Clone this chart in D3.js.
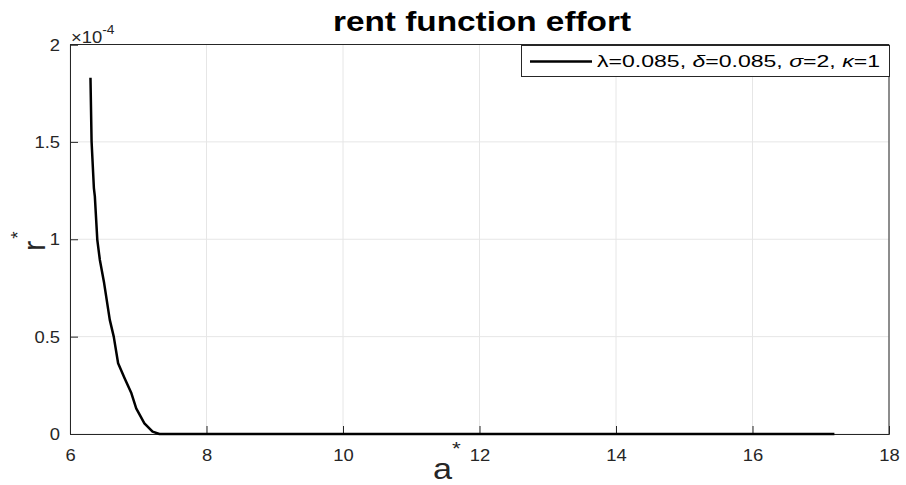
<!DOCTYPE html>
<html>
<head>
<meta charset="utf-8">
<script src="https://cdn.jsdelivr.net/npm/d3@7"></script>
<style>
  html, body { margin: 0; padding: 0; background: #fff; }
  svg { display: block; }
  text { font-family: "Liberation Sans", Arial, Helvetica, sans-serif; }
</style>
</head>
<body>
<svg id="chart" width="906" height="485"></svg>
<script>
// ---- data ----
const aStar = [6.30, 6.316, 6.35, 6.364, 6.40, 6.437, 6.50, 6.583, 6.641, 6.705, 6.80, 6.90, 6.97, 7.09, 7.21, 7.31, 8, 10, 12, 14, 16, 17.2];
const rStar = [1.829e-4, 1.503e-4, 1.263e-4, 1.22e-4, 0.997e-4, 0.895e-4, 0.775e-4, 0.586e-4, 0.50e-4, 0.363e-4, 0.286e-4, 0.209e-4, 0.132e-4, 0.055e-4, 0.012e-4, 0, 0, 0, 0, 0, 0, 0];
const xTicks = [6, 8, 10, 12, 14, 16, 18];
const yTicks = [0, 0.5e-4, 1e-4, 1.5e-4, 2e-4];
const yTickLabels = ["0", "0.5", "1", "1.5", "2"];
const titleText = "rent function effort";

const svg = d3.select("#chart");
const m = { left: 70, right: 889, top: 44.5, bottom: 434 };
const x = d3.scaleLinear().domain([6, 18]).range([m.left, m.right]);
const y = d3.scaleLinear().domain([0, 2e-4]).range([m.bottom, m.top]);
const axisColor = "#262626";
const SX = 1.15; // horizontal stretch of the reference's text

// grid
svg.append("g").selectAll("line").data(xTicks).join("line")
  .attr("x1", d => x(d)).attr("x2", d => x(d))
  .attr("y1", m.top).attr("y2", m.bottom)
  .attr("stroke", "#e6e6e6").attr("stroke-width", 1);
svg.append("g").selectAll("line").data(yTicks).join("line")
  .attr("x1", m.left).attr("x2", m.right)
  .attr("y1", d => y(d)).attr("y2", d => y(d))
  .attr("stroke", "#e6e6e6").attr("stroke-width", 1);

// box top & right
svg.append("line").attr("x1", m.left).attr("x2", m.right).attr("y1", m.top).attr("y2", m.top)
  .attr("stroke", axisColor).attr("stroke-width", 1);
svg.append("line").attr("x1", m.right).attr("x2", m.right).attr("y1", m.top).attr("y2", m.bottom)
  .attr("stroke", axisColor).attr("stroke-width", 1);

// axes
const xAxis = d3.axisBottom(x).tickValues(xTicks).tickSize(-8).tickFormat(d3.format("d"));
const gx = svg.append("g").attr("transform", `translate(0,${m.bottom})`).call(xAxis);
const yAxis = d3.axisLeft(y).tickValues(yTicks).tickSize(-8)
  .tickFormat((d, i) => yTickLabels[i]);
const gy = svg.append("g").attr("transform", `translate(${m.left},0)`).call(yAxis);
[gx, gy].forEach(g => {
  g.select(".domain").attr("stroke", axisColor).attr("stroke-width", 1);
  g.selectAll(".tick line").attr("stroke", axisColor);
  g.selectAll(".tick text").attr("fill", axisColor)
    .style("font-family", '"Liberation Sans", Arial, sans-serif').style("font-size", "16px");
});
gx.selectAll(".tick text").attr("x", 0).attr("y", 0).attr("dy", null)
  .attr("transform", `translate(0,27) scale(${SX},1)`);
gy.selectAll(".tick text").attr("x", 0).attr("dy", "0.35em")
  .attr("transform", `translate(-10,0) scale(${SX},1)`);

// curve
const line = d3.line().x((d, i) => x(aStar[i])).y((d, i) => y(rStar[i]));
svg.append("path").datum(rStar).attr("d", line)
  .attr("fill", "none").attr("stroke", "#000").attr("stroke-width", 2.5)
  .attr("stroke-linejoin", "round");

// exponent
const ex = svg.append("text").attr("transform", `translate(71,43) scale(${SX},1)`)
  .attr("fill", axisColor).style("font-size", "16px");
ex.append("tspan").text("×10");
ex.append("tspan").attr("dy", -9).style("font-size", "12px").text("-4");

// title
svg.append("text").attr("x", 482).attr("y", 31)
  .attr("text-anchor", "middle").style("font-size", "28px").style("font-weight", "bold")
  .attr("textLength", 298).attr("lengthAdjust", "spacingAndGlyphs")
  .attr("fill", "#000").text(titleText);

// x label a*
const xl = svg.append("text").attr("transform", `translate(433,479) scale(1.18,1)`)
  .attr("fill", axisColor).style("font-size", "29px");
xl.append("tspan").text("a");
xl.append("tspan").attr("dy", -24).style("font-size", "19px").text("*");

// y label r*
const yl = svg.append("text").attr("transform", `translate(45,${(m.top + m.bottom) / 2 + 2}) rotate(-90)`)
  .attr("text-anchor", "middle").attr("fill", axisColor).style("font-size", "31px");
yl.append("tspan").text("r");
yl.append("tspan").attr("dy", -21).attr("dx", 2).style("font-size", "19px").text("*");

// legend
const lg = svg.append("g");
lg.append("rect").attr("x", 521.5).attr("y", 45.5).attr("width", 368).attr("height", 31)
  .attr("fill", "#fff").attr("stroke", axisColor).attr("stroke-width", 1);
lg.append("line").attr("x1", 530).attr("x2", 592).attr("y1", 61.5).attr("y2", 61.5)
  .attr("stroke", "#000").attr("stroke-width", 2.5);
const lt = lg.append("text").attr("x", 597).attr("y", 67).attr("fill", "#000")
  .style("font-size", "17px").attr("textLength", 283).attr("lengthAdjust", "spacingAndGlyphs");
lt.append("tspan").text("λ");
lt.append("tspan").text("=0.085, ");
lt.append("tspan").style("font-style", "italic").text("δ");
lt.append("tspan").text("=0.085, ");
lt.append("tspan").style("font-style", "italic").text("σ");
lt.append("tspan").text("=2, ");
lt.append("tspan").style("font-style", "italic").text("κ");
lt.append("tspan").text("=1");
</script>
</body>
</html>
